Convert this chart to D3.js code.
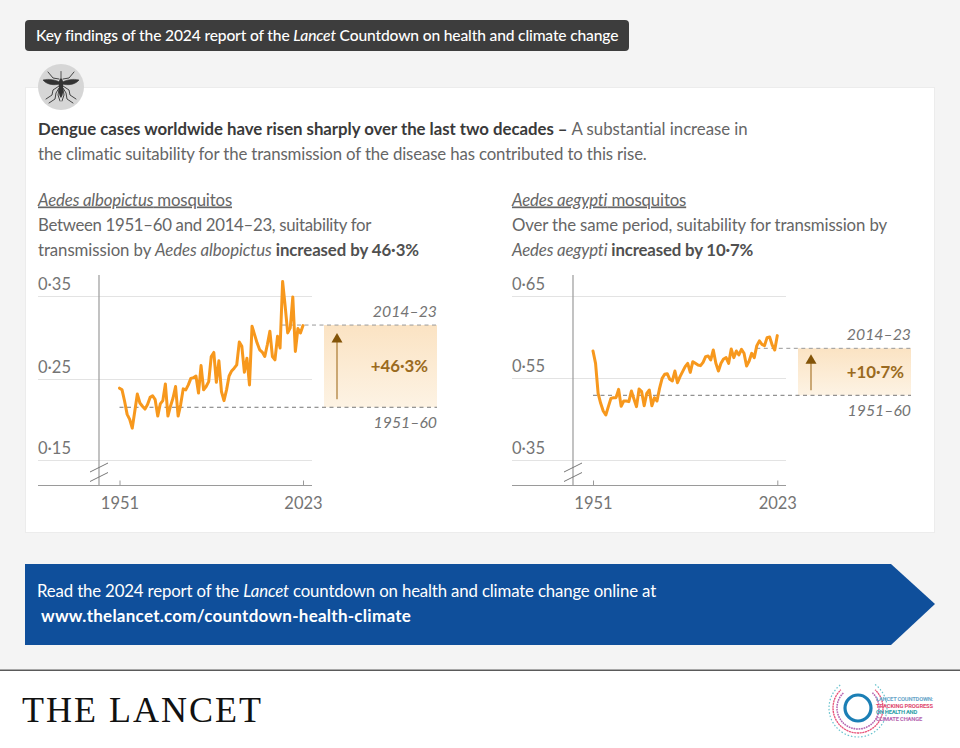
<!DOCTYPE html>
<html><head><meta charset="utf-8">
<script src="https://cdn.jsdelivr.net/npm/d3@7"></script>
<style>
html,body{margin:0;padding:0;background:#f4f4f4;}
svg{display:block;}
text{font-family:"Lato","Noto Sans",sans-serif;}
</style></head><body>
<div id="chart"></div>
<script>
const years = d3.range(1951, 2024);
const albopictus = [.2387,.2366,.2225,.2063,.2002,.1893,.2103,.2314,.2204,.2164,.2128,.2184,.2273,.2293,.2245,.2042,.2192,.2233,.2439,.2042,.2164,.2265,.2407,.2042,.2184,.2378,.2366,.2427,.2508,.2516,.2536,.2326,.2662,.2366,.2407,.2468,.2771,.2820,.2459,.2719,.2346,.2233,.2366,.2536,.2597,.2630,.2670,.2945,.2893,.2581,.2751,.2427,.3136,.3035,.2933,.2852,.2824,.2771,.2913,.3075,.2771,.2731,.3014,.2873,.3675,.3379,.3055,.3116,.3488,.2832,.3108,.3055,.3144];
const aegypti = [.5830,.5679,.5126,.4882,.4695,.4598,.4801,.5004,.5020,.5020,.5224,.4809,.4939,.4939,.4923,.5183,.4988,.4801,.5232,.5167,.4825,.5126,.5207,.4825,.5020,.4939,.5248,.5492,.5545,.5553,.5467,.5427,.5585,.5386,.5516,.5577,.5638,.5679,.5569,.5699,.5679,.5659,.5651,.5691,.5760,.5769,.5720,.5842,.5679,.5585,.5679,.5732,.5748,.5679,.5854,.5748,.5830,.5781,.5850,.5801,.5647,.5708,.5801,.5748,.5895,.5952,.5911,.5895,.5992,.6001,.5903,.5842,.6017];
const albTicks = [0.15, 0.25, 0.35];
const aegTicks = [0.35, 0.55, 0.65];
const albRefs = [0.2151, 0.3150];
const aegRefs = [0.5078, 0.5862];
const refLabels = ["1951–60", "2014–23"];
const xTicks = [1951, 2023];

const W = 960, H = 748;
const svg = d3.select("#chart").append("svg").attr("width", W).attr("height", H).attr("viewBox", `0 0 ${W} ${H}`);
const defs = svg.append("defs");
const grad = defs.append("linearGradient").attr("id", "boxGrad").attr("x1", 0).attr("x2", 0).attr("y1", 0).attr("y2", 1);
grad.append("stop").attr("offset", "0%").attr("stop-color", "#fbe3c3");
grad.append("stop").attr("offset", "100%").attr("stop-color", "#fdf3e4");

const GREY = "#747474", TXT = "#666666";
svg.append("rect").attr("width", W).attr("height", H).attr("fill", "#f4f4f4");

// fit a text line to a measured width by tuning its letter spacing
function fit(t, width) {
  const node = t.node();
  const s = node.textContent.length;
  const cur = node.getComputedTextLength();
  t.attr("letter-spacing", ((width - cur) / s).toFixed(3));
  return t;
}

// header pill
svg.append("rect").attr("x", 25).attr("y", 20).attr("width", 604).attr("height", 31).attr("rx", 4).attr("fill", "#3d3d3d");
const hdr = svg.append("text").attr("x", 36).attr("y", 41).attr("fill", "#fff").attr("font-size", 15.6).attr("font-weight", 500);
hdr.append("tspan").text("Key findings of the 2024 report of the ");
hdr.append("tspan").attr("font-style", "italic").text("Lancet");
hdr.append("tspan").text(" Countdown on health and climate change");
fit(hdr, 582);

// panel
svg.append("rect").attr("x", 25.5).attr("y", 87.5).attr("width", 909).attr("height", 445).attr("fill", "#fff").attr("stroke", "#ececec");

// mosquito icon
const ic = svg.append("g").attr("transform", "translate(61,87)");
ic.append("circle").attr("r", 23).attr("fill", "#d6d6d6");
const bug = ic.append("g").attr("fill", "none").attr("stroke", "#333").attr("stroke-linecap", "round").attr("stroke-linejoin", "round");
[-1, 1].forEach(s => {
  const g = bug.append("g").attr("transform", `scale(${s},1)`);
  g.append("path").attr("d", "M1.5,-3 C6,-1.5 14,-2 18,-7 C12,-8.5 5,-7 1.5,-5Z").attr("fill", "#333").attr("stroke-width", 0.6);
  g.append("path").attr("d", "M2,-8 L8,-9 L13,-15").attr("stroke-width", 0.9);
  g.append("path").attr("d", "M2,-1 L8,3 L9,8 L15,12").attr("stroke-width", 0.9);
  g.append("path").attr("d", "M2,1 L5,6 L6,12 L12,16").attr("stroke-width", 0.9);
  g.append("path").attr("d", "M2,2 L3,8 L1,14").attr("stroke-width", 0.9);
});
bug.append("path").attr("d", "M0,-15.5 L0,-9").attr("stroke-width", 0.8);
bug.append("path").attr("d", "M0,-9 C2.5,-7 2.5,-3 2,0 C2.5,4 2,9 0,11 C-2,9 -2.5,4 -2,0 C-2.5,-3 -2.5,-7 0,-9Z").attr("fill", "#333").attr("stroke", "none");

function para(x, y, runs, fill, size, width) {
  const t = svg.append("text").attr("x", x).attr("y", y).attr("fill", fill).attr("font-size", size);
  runs.forEach(r => {
    const s = t.append("tspan").text(r.t);
    if (r.b) s.attr("font-weight", 700).attr("fill", r.c || fill);
    if (r.i) s.attr("font-style", "italic");
    if (r.u) s.attr("text-decoration", "underline");
  });
  if (width) fit(t, width);
  return t;
}
para(38, 135, [{t:"Dengue cases worldwide have risen sharply over the last two decades – ", b:1, c:"#3a3a3a"},{t:"A substantial increase in"}], TXT, 16.8, 710);
para(38, 160, [{t:"the climatic suitability for the transmission of the disease has contributed to this rise."}], TXT, 16.8, 609);

para(38, 205.5, [{t:"Aedes albopictus", i:1, u:1},{t:" mosquitos", u:1}], TXT, 16.8, 194);
para(38, 230.7, [{t:"Between 1951–60 and 2014–23, suitability for"}], TXT, 16.8, 333);
para(38, 255.7, [{t:"transmission by "},{t:"Aedes albopictus", i:1},{t:" increased by 46·3%", b:1, c:"#505050"}], TXT, 16.8, 381);

para(512, 205.5, [{t:"Aedes aegypti", i:1, u:1},{t:" mosquitos", u:1}], TXT, 16.8, 174);
para(512, 230.7, [{t:"Over the same period, suitability for transmission by"}], TXT, 16.8, 375);
para(512, 255.7, [{t:"Aedes aegypti", i:1},{t:" increased by 10·7%", b:1, c:"#505050"}], TXT, 16.8, 241);

function chart(o) {
  const g = svg.append("g");
  const x = d3.scaleLinear().domain([1951, 2023]).range([o.x0, o.x1]);
  const y = d3.scaleLinear().domain(o.ticks).range([460, o.midY, 296]);
  const fmt = v => d3.format(".2f")(v).replace(".", "·");

  o.ticks.forEach(t => {
    g.append("line").attr("x1", o.left).attr("x2", o.right).attr("y1", y(t)+.5).attr("y2", y(t)+.5).attr("stroke", "#e3e3e3").attr("stroke-width", 1.2);
    g.append("text").attr("x", o.left).attr("y", y(t) - 6.5).attr("font-size", 16.5).attr("fill", GREY).text(fmt(t));
  });
  g.append("line").attr("x1", o.vx).attr("x2", o.vx).attr("y1", 275).attr("y2", 486).attr("stroke", "#9a9a9a").attr("stroke-width", 1.2);
  [463, 472.5].forEach(b => {
    g.append("line").attr("x1", o.vx - 9).attr("x2", o.vx + 9).attr("y1", b + 9).attr("y2", b).attr("stroke", "#777").attr("stroke-width", 1);
  });
  const ax = g.append("g").attr("transform", "translate(0,485.5)")
    .call(d3.axisBottom(x).tickValues(xTicks).tickFormat(d3.format("d")).tickSize(6).tickSizeOuter(0));
  ax.select(".domain").remove();
  ax.selectAll("line").attr("stroke", "#9a9a9a").attr("y2", -5);
  ax.selectAll("text").attr("font-family", "Lato,'Noto Sans',sans-serif").attr("font-size", 16.5).attr("fill", GREY).attr("dy", 0).attr("y", 23);
  g.append("line").attr("x1", o.left).attr("x2", o.right).attr("y1", 485.5).attr("y2", 485.5).attr("stroke", "#9a9a9a").attr("stroke-width", 1.2);

  const [lo, hi] = o.refs.map(y);
  g.append("rect").attr("x", o.boxL).attr("y", hi).attr("width", o.boxR - o.boxL).attr("height", lo - hi).attr("fill", "url(#boxGrad)");
  g.append("line").attr("x1", o.boxL + 13).attr("x2", o.boxL + 13).attr("y1", hi + o.arrow[0] + 8).attr("y2", lo - o.arrow[1]).attr("stroke", "#a9782f").attr("stroke-width", 1.2);
  g.append("path").attr("d", d3.line()([[o.boxL + 7.5, hi + o.arrow[0] + 9.5],[o.boxL + 13, hi + o.arrow[0]],[o.boxL + 18.5, hi + o.arrow[0] + 9.5]]) + "Z").attr("fill", "#835408");
  g.append("text").attr("x", o.boxR - o.pctGap).attr("y", (lo + hi) / 2 + 6).attr("text-anchor", "end").attr("font-size", 16.8).attr("font-weight", 700).attr("fill", "#9a6a20").text(o.pct);

  g.append("line").attr("x1", o.x0).attr("x2", o.boxR).attr("y1", lo).attr("y2", lo).attr("stroke", "#777").attr("stroke-dasharray", "4 3.5").attr("stroke-width", 1);
  g.append("line").attr("x1", o.x1 - 21).attr("x2", o.boxR).attr("y1", hi).attr("y2", hi).attr("stroke", "#999").attr("stroke-dasharray", "4 3.5").attr("stroke-width", 1);
  g.append("text").attr("x", o.boxR).attr("y", lo + 21).attr("text-anchor", "end").attr("font-size", 15.8).attr("font-style", "italic").attr("fill", GREY).text(refLabels[0]);
  g.append("text").attr("x", o.boxR).attr("y", hi - 8.5).attr("text-anchor", "end").attr("font-size", 15.8).attr("font-style", "italic").attr("fill", GREY).text(refLabels[1]);

  g.append("path").datum(o.values)
    .attr("fill", "none").attr("stroke", "#f7981d").attr("stroke-width", 3).attr("stroke-linejoin", "round").attr("stroke-linecap", "round")
    .attr("d", d3.line().x((d, i) => x(years[i])).y(d => y(d)));
}
chart({values: albopictus, ticks: albTicks, refs: albRefs, midY: 379, x0: 119.5, x1: 303, left: 38, right: 312, vx: 99, boxL: 324, boxR: 437, pct: "+46·3%", pctGap: 9, arrow: [8, 8]});
chart({values: aegypti, ticks: aegTicks, refs: aegRefs, midY: 378, x0: 593, x1: 777.3, left: 512, right: 786, vx: 573, boxL: 798, boxR: 911, pct: "+10·7%", pctGap: 7, arrow: [6, 5]});

// banner
svg.append("path").attr("d", "M25,564 H891 L935,604 L891,645 H25 Z").attr("fill", "#0f4f9b");
para(37, 596.5, [{t:"Read the 2024 report of the "},{t:"Lancet", i:1},{t:" countdown on health and climate change online at"}], "#fff", 16.8, 619);
fit(svg.append("text").attr("x", 41).attr("y", 622).attr("fill", "#fff").attr("font-size", 17).attr("font-weight", 700).text("www.thelancet.com/countdown-health-climate"), 370);

// footer
svg.append("rect").attr("y", 670).attr("width", W).attr("height", 78).attr("fill", "#fff");
svg.append("rect").attr("y", 669.5).attr("width", W).attr("height", 1.5).attr("fill", "#5a5a5a");
fit(svg.append("text").attr("x", 22).attr("y", 721.5).attr("font-size", 36).attr("fill", "#111").style("font-family", "'Liberation Serif',serif").text("THE LANCET"), 241);

// countdown logo
const lg = svg.append("g").attr("transform", "translate(858,708)");
const rings = [
  {r: 29, c: "#6cc4cf", w: 1.2, dash: "1 2.4", a0: 0.1, a1: 0.9},
  {r: 25, c: "#e8547a", w: 1.3, dash: "1.2 1.5", a0: 0.12, a1: 0.88},
  {r: 21, c: "#b565b0", w: 1.5, dash: "1.3 1.2", a0: 0.12, a1: 0.88},
];
rings.forEach(k => {
  const d = d3.arc()({innerRadius: k.r, outerRadius: k.r, startAngle: k.a0 * 2 * Math.PI, endAngle: k.a1 * 2 * Math.PI});
  lg.append("path").attr("d", d).attr("fill", "none").attr("stroke", k.c).attr("stroke-width", k.w).attr("stroke-dasharray", k.dash);
});
lg.append("circle").attr("r", 13).attr("fill", "none").attr("stroke", "#1b7fb5").attr("stroke-width", 3.2);
[["LANCET COUNTDOWN:", "#6aa6c9", 701, 57],["TRACKING PROGRESS", "#e0486f", 707.5, 57],["ON HEALTH AND", "#2f9fa8", 714, 41],["CLIMATE CHANGE", "#b565b0", 720.5, 46]].forEach(([t, c, yy, w]) => {
  fit(svg.append("text").attr("x", 876).attr("y", yy).attr("font-size", 5.8).attr("font-weight", 700).attr("fill", c).style("font-family", "'Liberation Sans Narrow','Roboto',sans-serif").text(t), w);
});
</script>
</body></html>
